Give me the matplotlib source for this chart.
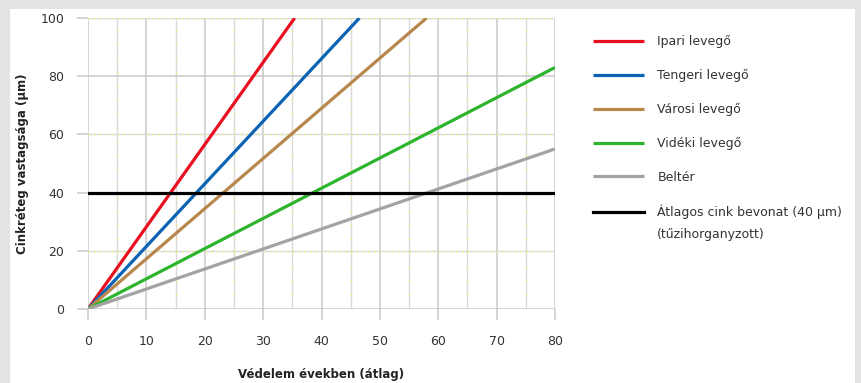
import matplotlib
matplotlib.use("Agg")
import matplotlib.pyplot as plt
from matplotlib.patches import Rectangle

plt.rcParams['font.family'] = ['DejaVu Sans']

# adatok: évek és cinkréteg vastagság
series_names = ['Ipari levegő', 'Tengeri levegő', 'Városi levegő', 'Vidéki levegő', 'Beltér']
series_years = [[0, 35.4], [0, 46.5], [0, 58.0], [0, 80], [0, 80]]
series_um = [[0, 100], [0, 100], [0, 100], [0, 83], [0, 55]]
colors = ['#e8101e', '#0b63b6', '#b8874e', '#2cb52c', '#a3a3a3']

avg_label = 'Átlagos cink bevonat (40 µm)'
avg_note = '(tűzihorganyzott)'
avg_years = [0, 80]
avg_um = [40, 40]

x_ticks = [0, 10, 20, 30, 40, 50, 60, 70, 80]
y_ticks = [0, 20, 40, 60, 80, 100]

fig = plt.figure(figsize=(8.61, 3.83), dpi=100)
fig.patch.set_facecolor('#e3e3e3')
fig.patches.append(Rectangle((10/861, 0), 845/861, 374/383, transform=fig.transFigure,
                             facecolor='white', edgecolor='none', zorder=-5))

ax = fig.add_axes([88/861, 1 - 309/383, 467/861, 291/383])
ax.set_facecolor('none')
ax.set_xlim(0, 80)
ax.set_ylim(0, 100)

# rácsvonalak: fő vonalak szürkék, a köztes vonalak szürke-sárga szaggatottak
major = '#c9c9c9'
minor = '#d9d9d9'
dots = '#ecec80'
for x in range(0, 81, 5):
    if x % 10 == 0:
        ax.axvline(x, color=major, lw=1.1, zorder=1)
    else:
        ax.axvline(x, color=minor, lw=1.0, zorder=1)
        ax.axvline(x, color=dots, lw=1.0, ls=(0, (1, 9)), zorder=1)
for y in y_ticks:
    if y in (0, 40, 80):
        ax.axhline(y, color=major, lw=1.1, zorder=1)
    else:
        ax.axhline(y, color=minor, lw=1.0, zorder=1)
        ax.axhline(y, color=dots, lw=1.0, ls=(0, (1.2, 3)), zorder=1)

for name, xs, ys, c in zip(series_names, series_years, series_um, colors):
    ax.plot(xs, ys, color=c, lw=2.3, label=name, zorder=3, solid_capstyle='butt')
ax.plot(avg_years, avg_um, color='black', lw=2.3, label=avg_label, zorder=4)

for s in ax.spines.values():
    s.set_visible(False)
ax.set_xticks(x_ticks)
ax.set_yticks(y_ticks)
ax.tick_params(length=8, width=1.1, color=major, labelsize=9,
               labelcolor='#333333')
ax.tick_params(axis='x', pad=11)
ax.tick_params(axis='y', pad=9)

ax.set_xlabel('Védelem években (átlag)', fontsize=8.5, fontweight='bold',
              color='#222222', labelpad=14)
ax.set_ylabel('Cinkréteg vastagsága (µm)', fontsize=8.5, fontweight='bold',
              color='#222222', labelpad=8)

leg = ax.legend(loc='upper left', bbox_to_anchor=(593/861, 1 - 35/383),
                bbox_transform=fig.transFigure, frameon=False, fontsize=9,
                handlelength=4.1, handletextpad=1.05, labelspacing=1.66,
                borderaxespad=0, borderpad=0)
for t in leg.get_texts():
    t.set_color('#333333')
fig.text(657/861, 1 - 234/383, avg_note, fontsize=9,
         color='#333333', va='center', ha='left')

fig.savefig('out.png', dpi=100, facecolor=fig.get_facecolor())
